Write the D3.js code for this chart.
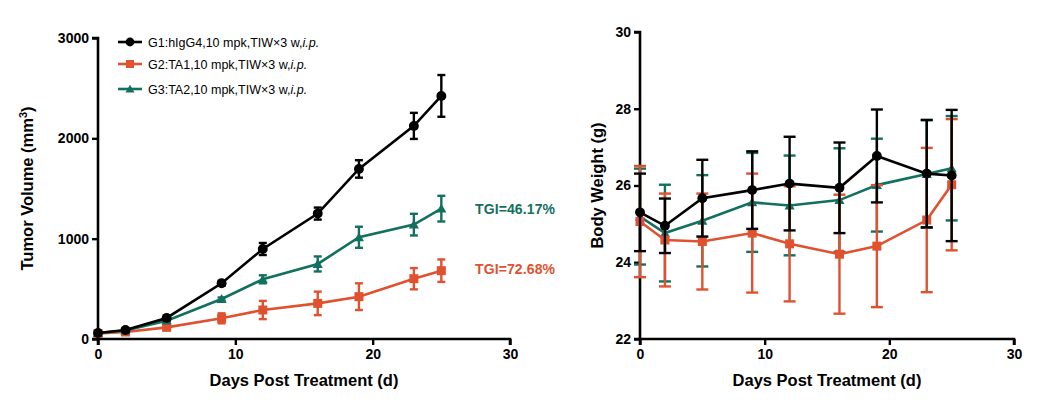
<!DOCTYPE html>
<html><head><meta charset="utf-8">
<script src="https://cdn.jsdelivr.net/npm/d3@7"></script>
<style>body{margin:0;background:#fff;}svg{display:block;font-family:"Liberation Sans",Arial,sans-serif;}</style>
</head><body>
<svg id="c" width="1044" height="401"></svg>
<script>
const days = [0, 2, 5, 9, 12, 16, 19, 23, 25];
const groupNames = ["G1:hIgG4,10 mpk,TIW\u00d73 w,", "G2:TA1,10 mpk,TIW\u00d73 w,", "G3:TA2,10 mpk,TIW\u00d73 w,"];
const groupColors = ["#000000", "#E0512F", "#12705F"];
const tvG1 = [60, 90, 210, 555, 897, 1250, 1695, 2124, 2423];
const tvG1Err = [15, 15, 25, 25, 60, 60, 87, 130, 208];
const tvG2 = [55, 70, 116, 206, 289, 355, 422, 601, 681];
const tvG2Err = [10, 12, 20, 50, 91, 117, 133, 106, 112];
const tvG3 = [60, 85, 183, 399, 595, 748, 1014, 1140, 1299];
const tvG3Err = [10, 12, 15, 15, 40, 75, 105, 108, 128];
const bwG1 = [25.30, 24.95, 25.67, 25.88, 26.05, 25.94, 26.77, 26.31, 26.26];
const bwG1Err = [1.01, 0.71, 1.00, 1.01, 1.22, 1.18, 1.21, 1.40, 1.71];
const bwG2 = [25.06, 24.58, 24.54, 24.76, 24.48, 24.21, 24.42, 25.10, 26.02];
const bwG2Err = [1.45, 1.21, 1.25, 1.55, 1.50, 1.55, 1.59, 1.88, 1.71];
const bwG3 = [25.19, 24.76, 25.08, 25.56, 25.48, 25.62, 26.01, 26.30, 26.45];
const bwG3Err = [1.25, 1.26, 1.19, 1.29, 1.30, 1.35, 1.21, 1.40, 1.36];
const tvTicks = [0, 1000, 2000, 3000];
const bwTicks = [22, 24, 26, 28, 30];
const dayTicks = [0, 10, 20, 30];
const tgiLabels = [{g:2, text:"TGI=46.17%", v:1300}, {g:1, text:"TGI=72.68%", v:700}];

const svg = d3.select("#c");

function marker(g, type, x, y, color, size) {
  if (type === 0) g.append("circle").attr("cx", x).attr("cy", y).attr("r", size*0.55).attr("fill", color);
  else if (type === 1) g.append("rect").attr("x", x-size*0.5).attr("y", y-size*0.5).attr("width", size).attr("height", size).attr("fill", color);
  else g.append("path").attr("d", d3.symbol().type(d3.symbolTriangle).size(size*size*0.55)()).attr("transform", `translate(${x},${y+1})`).attr("fill", color);
}

function panel(opts) {
  const {x0, x1, yTop, yBot, ydom, yticks, series, order, cap, msize, ylabel, ylabelX} = opts;
  const x = d3.scaleLinear().domain([0, 30]).range([x0, x1]);
  const y = d3.scaleLinear().domain(ydom).range([yBot, yTop]);
  const g = svg.append("g");
  // axes
  const ax = g.append("g").attr("transform", `translate(0,${yBot})`)
    .call(d3.axisBottom(x).tickValues(dayTicks).tickSize(6).tickPadding(4).tickFormat(d3.format("d")));
  const ay = g.append("g").attr("transform", `translate(${x0},0)`)
    .call(d3.axisLeft(y).tickValues(yticks).tickSize(6).tickPadding(3).tickFormat(d3.format("d")));
  [ax, ay].forEach(a => {
    a.select(".domain").attr("stroke", "#000").attr("stroke-width", 2.6);
    a.selectAll(".tick line").attr("stroke", "#000").attr("stroke-width", 2.4);
    a.selectAll(".tick text").attr("fill", "#000").attr("font-size", 14).attr("font-weight", "bold")
      .attr("font-family", "'Liberation Sans',Arial,sans-serif");
  });
  ax.select(".domain").attr("d", `M${x0},6V0H${x1}V6`);
  ay.select(".domain").attr("d", `M-6,${yTop}H0V${yBot}H-6`);
  // x label
  g.append("text").attr("x", (x0 + x1) / 2 - 0).attr("y", 386).attr("text-anchor", "middle")
    .attr("font-size", 16.5).attr("font-weight", "bold").text("Days Post Treatment (d)");
  // y label
  const yl = g.append("text").attr("transform", `translate(${ylabelX},${(yTop + yBot) / 2}) rotate(-90)`)
    .attr("text-anchor", "middle").attr("font-size", 16.5).attr("font-weight", "bold");
  ylabel(yl);
  // series
  order.forEach(i => {
    const s = series[i];
    const col = groupColors[i];
    const sg = g.append("g");
    // error bars
    days.forEach((d, k) => {
      const cx = x(d), ylo = y(s.v[k] - s.e[k]), yhi = y(s.v[k] + s.e[k]);
      sg.append("line").attr("x1", cx).attr("x2", cx).attr("y1", ylo).attr("y2", yhi).attr("stroke", col).attr("stroke-width", 2.4);
      [ylo, yhi].forEach(yy => sg.append("line").attr("x1", cx - cap).attr("x2", cx + cap).attr("y1", yy).attr("y2", yy).attr("stroke", col).attr("stroke-width", 2.4));
    });
    sg.append("path").datum(days.map((d, k) => [x(d), y(s.v[k])]))
      .attr("d", d3.line()).attr("fill", "none").attr("stroke", col).attr("stroke-width", 2.6);
    days.forEach((d, k) => marker(sg, i, x(d), y(s.v[k]), col, msize));
  });
  return {x, y};
}

const L = panel({
  x0: 98, x1: 510, yTop: 38, yBot: 339, ydom: [0, 3000], yticks: tvTicks, cap: 4, msize: 9,
  series: [{v: tvG1, e: tvG1Err}, {v: tvG2, e: tvG2Err}, {v: tvG3, e: tvG3Err}],
  order: [1, 2, 0], ylabelX: 33,
  ylabel: t => { t.append("tspan").text("Tumor Volume (mm"); t.append("tspan").attr("baseline-shift", "super").attr("font-size", 11).text("3"); t.append("tspan").text(")"); }
});
tgiLabels.forEach(t => {
  svg.append("text").attr("x", 475).attr("y", L.y(t.v) + 5).attr("font-size", 14).attr("font-weight", "bold")
    .attr("fill", groupColors[t.g]).attr("textLength", 80).text(t.text);
});

panel({
  x0: 640, x1: 1014, yTop: 32, yBot: 339, ydom: [22, 30], yticks: bwTicks, cap: 6, msize: 9,
  series: [{v: bwG1, e: bwG1Err}, {v: bwG2, e: bwG2Err}, {v: bwG3, e: bwG3Err}],
  order: [2, 1, 0], ylabelX: 603,
  ylabel: t => t.text("Body Weight (g)")
});

// legend
const legY = [42, 64, 89];
groupNames.forEach((n, i) => {
  const lg = svg.append("g");
  lg.append("line").attr("x1", 118).attr("x2", 142).attr("y1", legY[i]).attr("y2", legY[i]).attr("stroke", groupColors[i]).attr("stroke-width", 2.6);
  marker(lg, i, 130, legY[i], groupColors[i], 8);
  const t = lg.append("text").attr("x", 148).attr("y", legY[i] + 4.5).attr("font-size", 12.5).attr("fill", "#000");
  t.append("tspan").text(n);
  t.append("tspan").attr("font-style", "italic").text("i.p.");
});
</script>
</body></html>
